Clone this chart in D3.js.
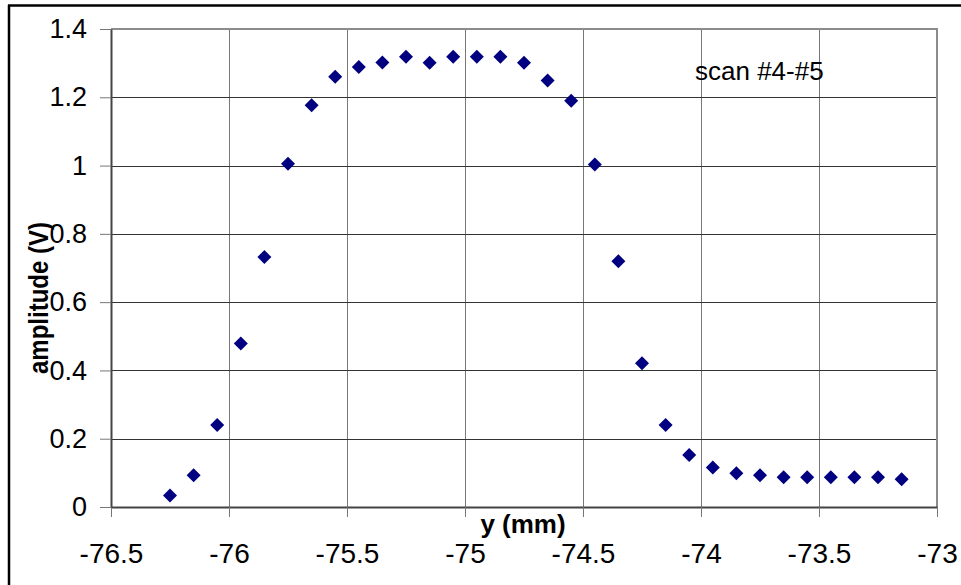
<!DOCTYPE html>
<html>
<head>
<meta charset="utf-8">
<script src="https://cdn.jsdelivr.net/npm/d3@7"></script>
<style>
  html, body { margin: 0; padding: 0; background: #fff; }
  svg { display: block; font-family: Arial, "Liberation Sans", sans-serif; }
</style>
</head>
<body>
<svg id="chart" width="961" height="585"></svg>
<script>
// Data
const positions = [-76.25, -76.15, -76.05, -75.95, -75.85, -75.75, -75.65, -75.55,
                   -75.45, -75.35, -75.25, -75.15, -75.05, -74.95, -74.85, -74.75,
                   -74.65, -74.55, -74.45, -74.35, -74.25, -74.15, -74.05, -73.95,
                   -73.85, -73.75, -73.65, -73.55, -73.45, -73.35, -73.25, -73.15];
const amplitudes = [0.034, 0.093, 0.240, 0.479, 0.732, 1.005, 1.177, 1.260,
                    1.289, 1.302, 1.319, 1.301, 1.319, 1.319, 1.319, 1.301,
                    1.249, 1.190, 1.003, 0.720, 0.421, 0.240, 0.152, 0.116,
                    0.099, 0.093, 0.087, 0.087, 0.087, 0.087, 0.087, 0.081];
const xTicks = [-76.5, -76, -75.5, -75, -74.5, -74, -73.5, -73];
const yTicks = [0, 0.2, 0.4, 0.6, 0.8, 1, 1.2, 1.4];
const xTitle = "y (mm)";
const yTitle = "amplitude (V)";
const annotation = "scan #4-#5";

const svg = d3.select("#chart");
const plot = { left: 111, top: 29, right: 937, bottom: 507 };

const x = d3.scaleLinear().domain([-76.5, -73]).range([plot.left, plot.right]);
const y = d3.scaleLinear().domain([0, 1.4]).range([plot.bottom, plot.top]);

// Outer chart frame (left and top edges visible)
svg.append("line").attr("x1", 9).attr("x2", 9).attr("y1", 5).attr("y2", 585)
  .attr("stroke", "#000").attr("stroke-width", 2.5);
svg.append("line").attr("x1", 8).attr("x2", 961).attr("y1", 5.5).attr("y2", 5.5)
  .attr("stroke", "#000").attr("stroke-width", 2.5);

// Vertical gridlines
svg.append("g").selectAll("line").data(xTicks.slice(1, -1)).join("line")
  .attr("x1", d => Math.round(x(d)) + 0.5).attr("x2", d => Math.round(x(d)) + 0.5)
  .attr("y1", plot.top).attr("y2", plot.bottom)
  .attr("stroke", "#777").attr("stroke-width", 1);

// Horizontal gridlines
svg.append("g").selectAll("line").data(yTicks.slice(1, -1)).join("line")
  .attr("x1", plot.left).attr("x2", plot.right)
  .attr("y1", d => Math.round(y(d)) + 0.5).attr("y2", d => Math.round(y(d)) + 0.5)
  .attr("stroke", "#333").attr("stroke-width", 1);

// Plot border top & right
svg.append("line").attr("x1", plot.left).attr("x2", plot.right + 1)
  .attr("y1", plot.top).attr("y2", plot.top).attr("stroke", "#8c8c8c").attr("stroke-width", 2);
svg.append("line").attr("x1", plot.right).attr("x2", plot.right)
  .attr("y1", plot.top).attr("y2", plot.bottom).attr("stroke", "#8c8c8c").attr("stroke-width", 2);

// Axes
const xAxis = d3.axisBottom(x).tickValues(xTicks).tickFormat(d => String(d))
  .tickSizeInner(10).tickSizeOuter(0).tickPadding(26);
const gx = svg.append("g").attr("transform", `translate(0,${plot.bottom})`).call(xAxis);
gx.select(".domain").attr("stroke", "#444").attr("stroke-width", 2);
gx.selectAll(".tick line").attr("stroke", "#777");
gx.selectAll(".tick text").attr("font-size", 28).attr("fill", "#000")
  .attr("font-family", "Arial, 'Liberation Sans', sans-serif");

const yAxis = d3.axisLeft(y).tickValues(yTicks).tickFormat(d => String(d))
  .tickSizeInner(11).tickSizeOuter(0).tickPadding(13);
const gy = svg.append("g").attr("transform", `translate(${plot.left},0)`).call(yAxis);
gy.select(".domain").attr("stroke", "#444").attr("stroke-width", 2);
gy.selectAll(".tick line").attr("stroke", "#777");
gy.selectAll(".tick text").attr("font-size", 27).attr("fill", "#000")
  .attr("font-family", "Arial, 'Liberation Sans', sans-serif");

// Axis titles
svg.append("text").attr("x", 523).attr("y", 533).attr("text-anchor", "middle")
  .attr("font-size", 26).attr("font-weight", "bold").text(xTitle);
svg.append("text").attr("transform", "translate(48,298) scale(1.12,1) rotate(-90)")
  .attr("text-anchor", "middle").attr("font-size", 24).attr("font-weight", "bold").text(yTitle);

// Annotation
svg.append("text").attr("x", 695).attr("y", 80).attr("font-size", 26).attr("fill", "#000")
  .text(annotation);

// Markers (diamonds)
const diamond = d3.symbol().type(d3.symbolSquare).size(98);
svg.append("g").selectAll("path").data(positions.map((p, i) => [p, amplitudes[i]])).join("path")
  .attr("d", diamond)
  .attr("transform", d => `translate(${x(d[0])},${y(d[1])}) rotate(45)`)
  .attr("fill", "#000080");
</script>
</body>
</html>
